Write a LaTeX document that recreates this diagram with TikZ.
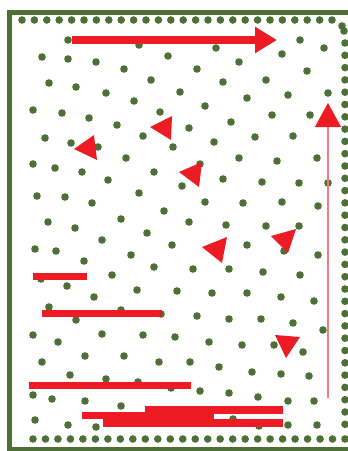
\documentclass[tikz,border=0pt]{standalone}
\usepackage{tikz}
\usetikzlibrary{arrows.meta}
\definecolor{LeafGreen}{HTML}{4C7035}
\definecolor{SignalRed}{HTML}{ED1C24}
\definecolor{PaleRed}{HTML}{F47A80}
\tikzset{
  frame/.style={draw=LeafGreen,line width=5pt},
  dot/.style={fill=LeafGreen},
  bar/.style={fill=SignalRed},
  wedge/.style={fill=SignalRed},
  bigarrow/.style={-{Triangle[length=22pt,width=25pt]},line width=7.5pt,draw=SignalRed},
  thinarrow/.style={-{Triangle[length=24pt,width=26pt,color=SignalRed]},line width=1.4pt,draw=PaleRed}
}
\begin{document}
\begin{tikzpicture}[x=1pt,y=-1pt]
  \useasboundingbox (0,0) rectangle (348,451);
  % frame
  \draw[frame] (9.5,451) -- (9.5,10) ;
  \draw[frame] (7,12.5) -- (348,12.5);
  \draw[frame] (7,449) -- (348,449);

  % dotted edges
  \foreach \i in {0,...,25} \fill[dot] (22+12.4*\i,20) circle (3.8);
  \foreach \i in {0,...,25} \fill[dot] (33+12.48*\i,439) circle (3.8);
  \foreach \i in {0,...,31} \fill[dot] (345,43+12.3*\i) circle (3.8);
  \fill[dot] (342,26) circle (3.8);
  \fill[dot] (344,31) circle (3.8);

  % scattered dots
  \foreach \x/\y in {68/40,139/45,300/40,324/48,216/48,42/57,68/59,96/62,168/56,282/54,
      239/62,124/69,197/69,307/71,49/83,76/87,151/80,223/82,266/80,106/93,
      180/92,288/95,328/93,134/101,247/98,33/110,62/113,205/106,160/112,89/118,
      272/115,310/115,117/125,231/122,189/128,45/138,143/136,214/142,255/137,293/136,
      71/143,98/147,173/147,33/164,55/168,126/158,82/172,154/172,200/164,239/158,
      277/161,317/158,108/180,182/186,223/179,262/182,299/183,328/183,37/196,65/197,
      139/193,92/203,205/202,243/203,282/202,318/206,164/211,48/222,121/219,189/222,
      226/225,266/226,299/226,75/228,147/233,102/240,35/249,56/251,172/245,247/245,
      284/251,318/255,84/261,131/255,154/267,193/269,229/269,263/272,300/275,41/279,
      112/275,67/286,137/290,177/291,212/293,247/293,281/297,94/297,314/301,49/307,
      121/310,76/320,161/314,197/316,229/319,261/319,293/323,323/330,33/335,58/342,
      102/334,143/335,175/337,209/342,242/345,274/345,303/352,42/362,85/356,124/356,
      159/362,190/362,219/367,252/372,281/374,309/376,70/375,106/379,138/382,171/388,
      33/395,52/399,85/401,200/391,229/393,258/397,288/401,314/401,121/406,35/420,
      68/425,96/427,233/419,259/426,288/425,317/425}
    \fill[dot] (\x,\y) circle (3.8);

  % arrows
  \draw[bigarrow] (72,40) -- (277,40);
  \coordinate (upfoot) at (328,398);
  \coordinate (uptip) at (328,103);
  \draw[thinarrow] (upfoot) -- (uptip);

  % loose wedges
  \fill[wedge] (150,127) -- (172,116) -- (171,140) -- cycle;
  \fill[wedge] (74,149) -- (94,135) -- (97,160) -- cycle;
  \fill[wedge] (179,172) -- (202,162) -- (199,187) -- cycle;
  \fill[wedge] (202,247) -- (227,237) -- (222,263) -- cycle;
  \fill[wedge] (271,236) -- (296,229) -- (288,253) -- cycle;
  \fill[wedge] (275,335) -- (300,337) -- (286,358) -- cycle;

  % bars
  \fill[bar] (33,273) rectangle (87,280);
  \fill[bar] (42,310) rectangle (162,317);
  \fill[bar] (29,382) rectangle (191,389);
  \fill[bar] (145,406) rectangle (283,414);
  \fill[bar] (82,412) rectangle (214,419);
  \fill[bar] (103,419) rectangle (283,427);
\end{tikzpicture}
\end{document}
